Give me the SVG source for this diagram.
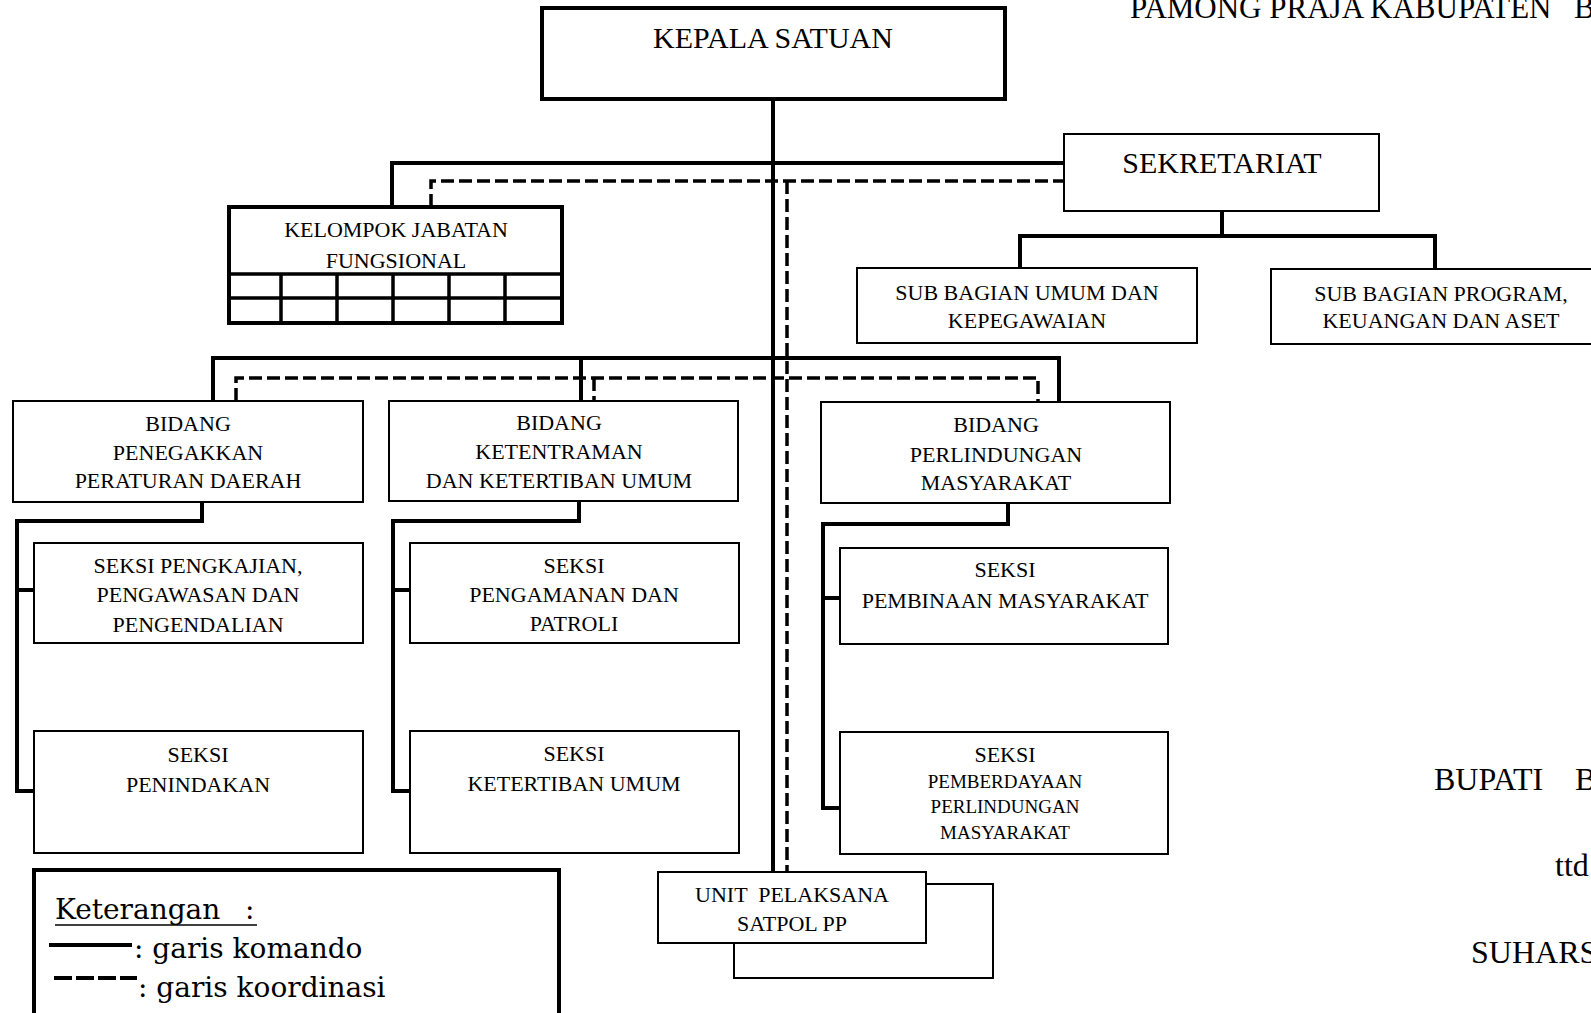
<svg xmlns="http://www.w3.org/2000/svg" width="1591" height="1013" viewBox="0 0 1591 1013">
<style>
.box{fill:#fff;stroke:#000;stroke-width:2}
.thick{fill:#fff;stroke:#000;stroke-width:4}
.cmd{fill:none;stroke:#000;stroke-width:4;stroke-linejoin:miter;stroke-linecap:square}
.crd{fill:none;stroke:#000;stroke-width:3.5;stroke-dasharray:13 5}
text{font-family:"Liberation Serif","Times New Roman",serif;fill:#000;text-anchor:middle}
.t30{font-size:30px}
.t22{font-size:22px}
.t19{font-size:19px}
.t32{font-size:32px;text-anchor:start}
.lg{font-family:"DejaVu Serif",serif;font-size:28px;text-anchor:start}
</style>
<rect width="1591" height="1013" fill="#fff"/>

<g id="connectors">
  <!-- main stems -->
  <path class="cmd" d="M773,99 V872"/>
  <path class="crd" d="M787,181 V872"/>
  <!-- top level -->
  <path class="cmd" d="M392,207 V163 H1064"/>
  <path class="crd" d="M431,207 V181 H1064"/>
  <!-- sekretariat -->
  <path class="cmd" d="M1222,211 V236"/>
  <path class="cmd" d="M1020,268 V236 H1435 V269"/>
  <!-- bidang level -->
  <path class="cmd" d="M213,401 V358 H1059 V402"/>
  <path class="cmd" d="M581,358 V401"/>
  <path class="crd" d="M236,401 V378 H1038 V402"/>
  <path class="crd" d="M594,378 V401"/>
  <!-- seksi BPPD -->
  <path class="cmd" d="M202,502 V521 H17 V791 H34"/>
  <path class="cmd" d="M17,590 H34"/>
  <!-- seksi BKKU -->
  <path class="cmd" d="M579,501 V521 H393 V791 H410"/>
  <path class="cmd" d="M393,590 H410"/>
  <!-- seksi BPM -->
  <path class="cmd" d="M1008,503 V524 H823 V808 H840"/>
  <path class="cmd" d="M823,598 H840"/>
</g>

<text class="t30" x="1130" y="18" style="text-anchor:start;font-size:31px">PAMONG PRAJA KABUPATEN <tspan x="1574">B</tspan></text>

<g id="kepala">
  <rect class="thick" x="542" y="8" width="463" height="91"/>
  <text class="t30" x="773" y="48">KEPALA SATUAN</text>
</g>

<g id="sekretariat">
  <rect class="box" x="1064" y="134" width="315" height="77"/>
  <text class="t30" x="1222" y="173">SEKRETARIAT</text>
</g>

<g id="kjf">
  <rect class="thick" x="229" y="207" width="333" height="116"/>
  <path d="M229,274 H562 M229,298 H562 M281,274 V323 M337,274 V323 M393,274 V323 M449,274 V323 M505,274 V323" stroke="#000" stroke-width="3.5" fill="none"/>
  <text class="t22" x="396" y="237">KELOMPOK JABATAN</text>
  <text class="t22" x="396" y="268">FUNGSIONAL</text>
</g>

<g id="subbag-umum">
  <rect class="box" x="857" y="268" width="340" height="75"/>
  <text class="t22" x="1027" y="300">SUB BAGIAN UMUM DAN</text>
  <text class="t22" x="1027" y="328">KEPEGAWAIAN</text>
</g>

<g id="subbag-program">
  <rect class="box" x="1271" y="269" width="340" height="75"/>
  <text class="t22" x="1441" y="301">SUB BAGIAN PROGRAM,</text>
  <text class="t22" x="1441" y="328">KEUANGAN DAN ASET</text>
</g>

<g id="bidang-ppd">
  <rect class="box" x="13" y="401" width="350" height="101"/>
  <text class="t22" x="188" y="431">BIDANG</text>
  <text class="t22" x="188" y="460">PENEGAKKAN</text>
  <text class="t22" x="188" y="488">PERATURAN DAERAH</text>
</g>

<g id="bidang-kku">
  <rect class="box" x="389" y="401" width="349" height="100"/>
  <text class="t22" x="559" y="430">BIDANG</text>
  <text class="t22" x="559" y="459">KETENTRAMAN</text>
  <text class="t22" x="559" y="488">DAN KETERTIBAN UMUM</text>
</g>

<g id="bidang-pm">
  <rect class="box" x="821" y="402" width="349" height="101"/>
  <text class="t22" x="996" y="432">BIDANG</text>
  <text class="t22" x="996" y="462">PERLINDUNGAN</text>
  <text class="t22" x="996" y="490">MASYARAKAT</text>
</g>

<g id="seksi-ppp">
  <rect class="box" x="34" y="543" width="329" height="100"/>
  <text class="t22" x="198" y="573">SEKSI PENGKAJIAN,</text>
  <text class="t22" x="198" y="602">PENGAWASAN DAN</text>
  <text class="t22" x="198" y="632">PENGENDALIAN</text>
</g>

<g id="seksi-penindakan">
  <rect class="box" x="34" y="731" width="329" height="122"/>
  <text class="t22" x="198" y="762">SEKSI</text>
  <text class="t22" x="198" y="792">PENINDAKAN</text>
</g>

<g id="seksi-pengamanan">
  <rect class="box" x="410" y="543" width="329" height="100"/>
  <text class="t22" x="574" y="573">SEKSI</text>
  <text class="t22" x="574" y="602">PENGAMANAN DAN</text>
  <text class="t22" x="574" y="631">PATROLI</text>
</g>

<g id="seksi-ketertiban">
  <rect class="box" x="410" y="731" width="329" height="122"/>
  <text class="t22" x="574" y="761">SEKSI</text>
  <text class="t22" x="574" y="791">KETERTIBAN UMUM</text>
</g>

<g id="seksi-pembinaan">
  <rect class="box" x="840" y="548" width="328" height="96"/>
  <text class="t22" x="1005" y="577">SEKSI</text>
  <text class="t22" x="1005" y="608">PEMBINAAN MASYARAKAT</text>
</g>

<g id="seksi-pemberdayaan">
  <rect class="box" x="840" y="732" width="328" height="122"/>
  <text class="t22" x="1005" y="762">SEKSI</text>
  <text class="t19" x="1005" y="788">PEMBERDAYAAN</text>
  <text class="t19" x="1005" y="813">PERLINDUNGAN</text>
  <text class="t19" x="1005" y="839">MASYARAKAT</text>
</g>

<g id="unit-pelaksana">
  <rect class="box" x="734" y="884" width="259" height="94"/>
  <rect class="box" x="658" y="872" width="268" height="71"/>
  <text class="t22" x="792" y="902" xml:space="preserve">UNIT  PELAKSANA</text>
  <text class="t22" x="792" y="931">SATPOL PP</text>
</g>

<g id="legend">
  <rect class="thick" x="34" y="870" width="525" height="160"/>
  <text class="lg" x="55" y="919">Keterangan</text>
  <text class="lg" x="245" y="919">:</text>
  <line x1="55" y1="925" x2="257" y2="925" stroke="#000" stroke-width="1.5"/>
  <line x1="49" y1="945" x2="132" y2="945" stroke="#000" stroke-width="4"/>
  <text class="lg" x="134" y="958">: garis komando</text>
  <line x1="54" y1="978" x2="137" y2="978" stroke="#000" stroke-width="4" stroke-dasharray="18 4"/>
  <text class="lg" x="138" y="997">: garis koordinasi</text>
</g>

<g id="signature">
  <text class="t32" x="1434" y="790">BUPATI<tspan x="1575">B</tspan></text>
  <text class="t32" x="1555" y="876">ttd</text>
  <text class="t32" x="1471" y="963">SUHARS</text>
</g>
</svg>
